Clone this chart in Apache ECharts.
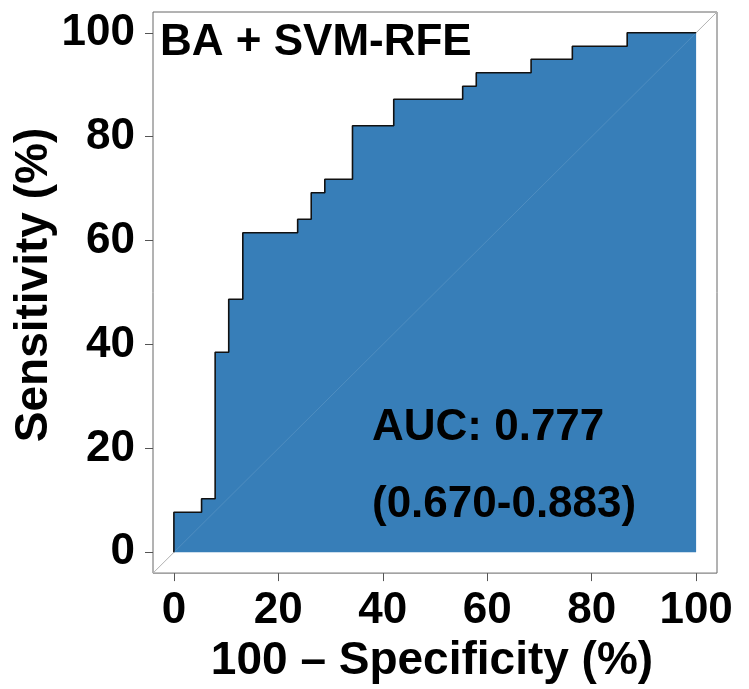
<!DOCTYPE html>
<html>
<head>
<meta charset="utf-8">
<script src="https://cdn.jsdelivr.net/npm/echarts@6/dist/echarts.min.js"></script>
<style>
  html, body { margin: 0; padding: 0; background: #fff; }
  #roc { width: 749px; height: 689px; }
</style>
</head>
<body>
<div id="roc"></div>
<script>
// ROC points (100 - specificity, sensitivity), in %
var fpr = [0, 0, 5.3, 7.9, 10.5, 13.2, 23.7, 26.3, 28.9, 34.2, 42.1, 55.3, 57.9, 68.4, 76.3, 86.8, 100];
var tpr = [0, 7.7, 10.3, 38.5, 48.7, 61.5, 64.1, 69.2, 71.8, 82.1, 87.2, 89.7, 92.3, 94.9, 97.4, 100, 100];
var ticks = [0, 20, 40, 60, 80, 100];
var diag = [-4, 104];

var title = 'BA + SVM-RFE';
var aucText = 'AUC: 0.777';
var ciText = '(0.670-0.883)';
var yName = 'Sensitivity (%)';

var font = '"Liberation Sans", Arial, Helvetica, sans-serif';

var rocData = fpr.map(function (x, i) { return [x, tpr[i]]; });
var diagData = diag.map(function (v) { return [v, v]; });

var myChart = echarts.init(document.getElementById('roc'));

var option = {
    animation: false,
    backgroundColor: '#fff',
    grid: {
        left: 153, top: 12, width: 564, height: 565,
        show: true, borderColor: '#666', borderWidth: 1, backgroundColor: 'transparent'
    },
    xAxis: {
        type: 'value', min: -4, max: 104,
        name: '100 \u2013 Specificity (%)', nameLocation: 'middle', nameGap: 62,
        nameTextStyle: { fontFamily: font, fontWeight: 'bold', fontSize: 46, color: '#000', padding: [0, 6, 0, 0] },
        axisLine: { show: false, onZero: false },
        axisTick: { show: true, length: 8, inside: false, customValues: ticks, lineStyle: { color: '#555', width: 1 } },
        axisLabel: { customValues: ticks, margin: 16, fontFamily: font, fontWeight: 'bold', fontSize: 44, color: '#000' },
        splitLine: { show: false }
    },
    yAxis: {
        type: 'value', min: -4, max: 104,
        axisLine: { show: false, onZero: false },
        axisTick: { show: true, length: 8, inside: false, customValues: ticks, lineStyle: { color: '#555', width: 1 } },
        axisLabel: { customValues: ticks, margin: 18, fontFamily: font, fontWeight: 'bold', fontSize: 44, color: '#000' },
        splitLine: { show: false }
    },
    series: [
        {
            type: 'line', data: diagData, symbol: 'none', z: 1, silent: true,
            lineStyle: { color: '#aaa', width: 1 }
        },
        {
            type: 'line', data: rocData, step: 'end', symbol: 'none', z: 2,
            lineStyle: { color: '#111', width: 1.6 },
            areaStyle: { color: '#377eb8', opacity: 1, origin: 0 }
        },
        {
            type: 'line', data: diagData, symbol: 'none', z: 3, silent: true,
            lineStyle: { color: 'rgba(255,255,255,0.12)', width: 1 }
        }
    ],
    graphic: [
        { type: 'text', x: 160, y: 43, z: 100, style: { text: title, font: 'bold 44px ' + font, fill: '#000', verticalAlign: 'middle' } },
        { type: 'text', x: 372, y: 428, z: 100, style: { text: aucText, font: 'bold 44px ' + font, fill: '#000', verticalAlign: 'middle' } },
        { type: 'text', x: 372, y: 505, z: 100, style: { text: ciText, font: 'bold 44px ' + font, fill: '#000', verticalAlign: 'middle' } },
        { type: 'text', x: 34, y: 285, rotation: Math.PI / 2, z: 100, style: { text: yName, font: 'bold 46px ' + font, fill: '#000', align: 'center', verticalAlign: 'middle' } }
    ]
};

myChart.setOption(option);
</script>
</body>
</html>
